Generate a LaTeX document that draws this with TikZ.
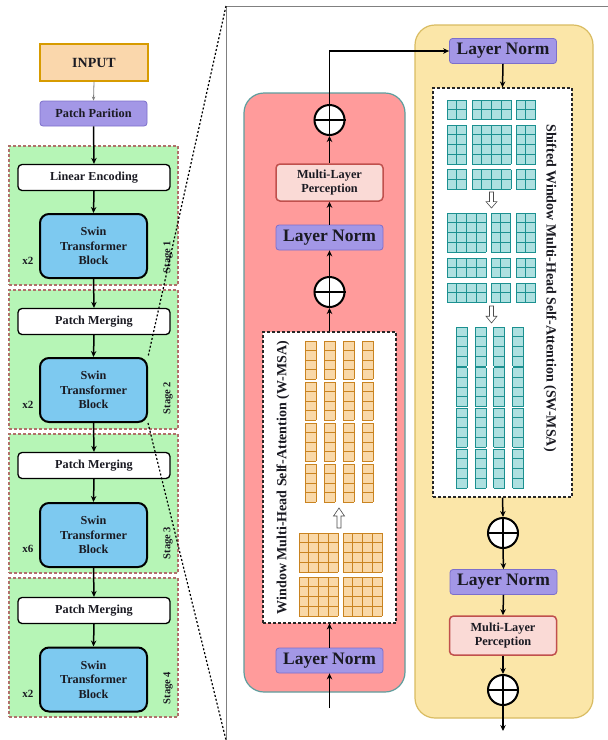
\documentclass[tikz,border=0pt]{standalone}
\usepackage{fontspec}
\setmainfont{Liberation Serif}
\usetikzlibrary{arrows.meta}
\definecolor{txt}{HTML}{1A1A22}
\definecolor{inpfill}{HTML}{FAD7AC}
\definecolor{inpedge}{HTML}{D79B00}
\definecolor{lnfill}{HTML}{A397E6}
\definecolor{lnedge}{HTML}{7C6FCB}
\definecolor{stfill}{HTML}{B6F5B6}
\definecolor{stedge}{HTML}{B0706A}
\definecolor{swfill}{HTML}{7DC9F0}
\definecolor{redfill}{HTML}{FF9B9B}
\definecolor{rededge}{HTML}{5E9E9E}
\definecolor{yelfill}{HTML}{FBE6A8}
\definecolor{yeledge}{HTML}{D9BC62}
\definecolor{mlpfill}{HTML}{FADAD6}
\definecolor{mlpedge}{HTML}{C0504D}
\definecolor{ocellfill}{HTML}{F9D8A8}
\definecolor{ocelledge}{HTML}{C98320}
\definecolor{tcellfill}{HTML}{ADE0E0}
\definecolor{tcelledge}{HTML}{1B9090}
\tikzset{
  arr/.style={line width=1.5pt, draw=black, -{Stealth[length=6pt,width=5.5pt]}},
  thinarr/.style={line width=0.8pt, draw=gray, -{Stealth[length=4pt,width=3.5pt]}},
  base/.style={rectangle, align=center, inner sep=0pt, text=txt},
  inpbox/.style={base, fill=inpfill, draw=inpedge, line width=1.5pt, minimum width=108pt, minimum height=37pt, font=\fontsize{14}{16}\selectfont\bfseries},
  ppbox/.style={base, rounded corners=3pt, fill=lnfill, draw=lnedge, line width=0.8pt, minimum width=107pt, minimum height=25pt, font=\fontsize{12.3}{14}\selectfont\bfseries},
  lnbox/.style={base, rounded corners=3pt, fill=lnfill, draw=lnedge, line width=0.8pt, minimum width=107pt, minimum height=25pt, font=\fontsize{17.5}{19}\selectfont\bfseries},
  mlpbox/.style={base, rounded corners=4pt, fill=mlpfill, draw=mlpedge, line width=1.5pt, minimum width=107pt, minimum height=37pt, font=\fontsize{12.3}{14}\selectfont\bfseries},
  whitebox/.style={base, rounded corners=4pt, fill=white, draw=black, line width=1.3pt, minimum width=152pt, minimum height=26pt, font=\fontsize{12.2}{14}\selectfont\bfseries},
  swinbox/.style={base, rounded corners=9pt, fill=swfill, draw=black, line width=2pt, minimum width=107pt, minimum height=64pt, font=\fontsize{12.2}{14.5}\selectfont\bfseries},
  stagebox/.style={rectangle, fill=stfill, draw=stedge, dash pattern=on 3pt off 2pt, line width=1.2pt, minimum width=169pt, minimum height=139pt, inner sep=0pt},
  stagelbl/.style={rotate=90, text=txt, font=\fontsize{10.5}{12}\selectfont\bfseries, inner sep=0pt},
  xlbl/.style={text=txt, font=\fontsize{11}{12}\selectfont\bfseries, inner sep=0pt},
  plusnode/.style={circle, fill=white, draw=black, line width=2pt, minimum size=30pt, inner sep=0pt},
  dashbox/.style={rectangle, fill=white, draw=black!85, dash pattern=on 3pt off 2pt, line width=1.1pt, inner sep=0pt},
  panelred/.style={rectangle, rounded corners=20pt, fill=redfill, draw=rededge, line width=1.2pt, inner sep=0pt},
  panelyel/.style={rectangle, rounded corners=20pt, fill=yelfill, draw=yeledge, line width=1.2pt, inner sep=0pt},
  rotlbl/.style={text=txt, font=\fontsize{14}{16}\selectfont\bfseries, inner sep=0pt},
  ofill/.style={fill=ocellfill},
  oline/.style={draw=ocelledge, line width=1pt},
  tfill/.style={fill=tcellfill},
  tline/.style={draw=tcelledge, line width=1pt},
  hollow/.style={fill=white, draw=black!70, line width=0.6pt},
  zoomline/.style={line width=1.2pt, draw=black, dash pattern=on 2pt off 2pt},
}
% #1 style prefix, #2 x0, #3 y0, #4 ncols, #5 nrows, #6 cell w, #7 cell h
\newcommand{\cblock}[7]{%
  \fill[#1fill] (#2,#3) rectangle ++({#4*#6},{#5*#7});
  \foreach \ii in {0,...,#4} \draw[#1line] ({#2+\ii*#6},#3) -- ++(0,{#5*#7});
  \foreach \jj in {0,...,#5} \draw[#1line] (#2,{#3+\jj*#7}) -- ++({#4*#6},0);
}
% hollow arrow: #1 x, #2 y tail, #3 y tip
\newcommand{\hollowarrow}[3]{%
  \path[hollow] ({#1-2},#2) -- ({#1-2},{#3+(#2-#3)*0.4}) -- ({#1-5.5},{#3+(#2-#3)*0.4}) -- (#1,#3)
     -- ({#1+5.5},{#3+(#2-#3)*0.4}) -- ({#1+2},{#3+(#2-#3)*0.4}) -- ({#1+2},#2) -- cycle;
}
\begin{document}
\begin{tikzpicture}[x=1pt,y=-1pt]
\useasboundingbox (0,0) rectangle (608,740);
\fill[white] (0,0) rectangle (608,740);

% ---------------- left column ----------------
\node[inpbox] (inp) at (94,62.5) {INPUT};
\node[ppbox] (pp) at (93.5,113.5) {Patch Parition};

\node[stagebox] (st1) at (93.5,215.5) {};
\node[stagebox] (st2) at (93.5,359.5) {};
\node[stagebox] (st3) at (93.5,503.5) {};
\node[stagebox] (st4) at (93.5,647.5) {};

\node[whitebox] (le1) at (94,177.5) {Linear Encoding};
\node[swinbox] (sb1) at (93.5,246) {Swin\\Transformer\\Block};
\node[whitebox] (pm2) at (94,321.5) {Patch Merging};
\node[swinbox] (sb2) at (93.5,390) {Swin\\Transformer\\Block};
\node[whitebox] (pm3) at (94,465.5) {Patch Merging};
\node[swinbox] (sb3) at (93.5,535) {Swin\\Transformer\\Block};
\node[whitebox] (pm4) at (94,610.5) {Patch Merging};
\node[swinbox] (sb4) at (93.5,679.5) {Swin\\Transformer\\Block};

\node[xlbl] (x1) at (28,261) {x2};
\node[xlbl] (x2) at (28,405) {x2};
\node[xlbl] (x3) at (28,549) {x6};
\node[xlbl] (x4) at (28,694) {x2};

\node[stagelbl] (s1) at (168,257) {Stage 1};
\node[stagelbl] (s2) at (168,398) {Stage 2};
\node[stagelbl] (s3) at (168,543) {Stage 3};
\node[stagelbl] (s4) at (168,688) {Stage 4};

\draw[thinarr] (inp.south) -- (pp.north);
\draw[arr] (pp.south) -- (le1.north);
\draw[arr] (le1.south) -- (sb1.north);
\draw[arr] (sb1.south) -- (pm2.north);
\draw[arr] (pm2.south) -- (sb2.north);
\draw[arr] (sb2.south) -- (pm3.north);
\draw[arr] (pm3.south) -- (sb3.north);
\draw[arr] (sb3.south) -- (pm4.north);
\draw[arr] (pm4.south) -- (sb4.north);

% ---------------- right frame ----------------
\coordinate (pc) at (226,6);
\coordinate (pb) at (226,740);
\coordinate (pr) at (608,6);
\draw[line width=1pt, draw=gray] (pr) -- (pc) -- (pb);

% ---------------- panels ----------------
\node[panelred, minimum width=161pt, minimum height=599pt] (redp) at (324.5,392.5) {};
\node[panelyel, minimum width=178pt, minimum height=693pt] (yelp) at (504,371.5) {};

% red panel content
\coordinate (rin) at (329.5,708);
\node[lnbox] (ln1) at (329.5,660.5) {Layer Norm};
\node[dashbox, minimum width=133pt, minimum height=291pt] (wbox) at (329.5,477.5) {};
\node[plusnode] (p1) at (329.5,292) {};
\node[lnbox] (ln2) at (329.5,237.5) {Layer Norm};
\node[mlpbox] (mlp1) at (329.5,182.5) {Multi-Layer\\Perception};
\node[plusnode] (p2) at (329.5,120) {};

\node[rotlbl, rotate=90] (wlbl) at (283,477.5) {Window Multi-Head Self-Attention (W-MSA)};

% W-MSA grids
\foreach \cx in {305,324,343,362}{
  \foreach \gy in {341,382,423,464}{
    \cblock{o}{\cx}{\gy}{1}{4}{11}{9.5}
  }
}
\foreach \bx in {299,343}{
  \foreach \by in {533,577}{
    \cblock{o}{\bx}{\by}{4}{4}{9.75}{9.75}
  }
}
\hollowarrow{339}{528}{508}

% yellow panel content
\node[lnbox] (ln3) at (503,51) {Layer Norm};
\node[dashbox, minimum width=139pt, minimum height=409pt] (swbox) at (502.5,292.5) {};
\node[plusnode] (p3) at (503,533) {};
\node[lnbox] (ln4) at (503.5,582) {Layer Norm};
\node[mlpbox, minimum height=39pt] (mlp2) at (503,635.5) {Multi-Layer\\Perception};
\node[plusnode] (p4) at (503,690) {};
\coordinate (yout) at (503,731);

\node[rotlbl, rotate=-90] (swlbl) at (550,288) {Shifted Window Multi-Head Self-Attention (SW-MSA)};

% SW-MSA grids: top (3x3 windows)
\cblock{t}{447}{100}{2}{2}{9.75}{9.75}
\cblock{t}{472}{100}{4}{2}{9.75}{9.75}
\cblock{t}{516}{100}{2}{2}{9.75}{9.75}
\cblock{t}{447}{125}{2}{4}{9.75}{9.75}
\cblock{t}{472}{125}{4}{4}{9.75}{9.75}
\cblock{t}{516}{125}{2}{4}{9.75}{9.75}
\cblock{t}{447}{169.5}{2}{2}{9.75}{9.75}
\cblock{t}{472}{169.5}{4}{2}{9.75}{9.75}
\cblock{t}{516}{169.5}{2}{2}{9.75}{9.75}
\hollowarrow{491.5}{192}{208}
% middle (cyclic shift)
\cblock{t}{447}{213}{4}{4}{9.75}{9.75}
\cblock{t}{491}{213}{2}{4}{9.75}{9.75}
\cblock{t}{516}{213}{2}{4}{9.75}{9.75}
\cblock{t}{447}{258}{4}{2}{9.75}{9.75}
\cblock{t}{491}{258}{2}{2}{9.75}{9.75}
\cblock{t}{516}{258}{2}{2}{9.75}{9.75}
\cblock{t}{447}{283}{4}{2}{9.75}{9.75}
\cblock{t}{491}{283}{2}{2}{9.75}{9.75}
\cblock{t}{516}{283}{2}{2}{9.75}{9.75}
\hollowarrow{491.5}{306}{323}
% bottom strips
\foreach \cx in {456,475,493.5,512.5}{
  \foreach \gy in {327,367.5,408,449}{
    \cblock{t}{\cx}{\gy}{1}{4}{11}{9.75}
  }
}

% plus signs
\foreach \p in {p1,p2,p3,p4}{
  \draw[line width=1.6pt] (\p.north) -- (\p.south) (\p.west) -- (\p.east);
}

% connectors (right)
\draw[arr] (rin) -- (ln1.south);
\draw[arr] (ln1.north) -- (wbox.south);
\draw[arr] (wbox.north) -- (p1.south);
\draw[arr] (p1.north) -- (ln2.south);
\draw[arr] (ln2.north) -- (mlp1.south);
\draw[arr] (mlp1.north) -- (p2.south);
\draw[arr] (p2.north) |- (ln3.west);
\draw[arr] (ln3.south) -- (swbox.north);
\draw[arr] (swbox.south) -- (p3.north);
\draw[arr] (p3.south) -- (ln4.north);
\draw[arr] (ln4.south) -- (mlp2.north);
\draw[arr] (mlp2.south) -- (p4.north);
\draw[arr] (p4.south) -- (yout);

% zoom lines
\draw[zoomline] (pc) -- (sb2.north east);
\draw[zoomline] (sb2.south east) -- (pb);
\end{tikzpicture}
\end{document}
